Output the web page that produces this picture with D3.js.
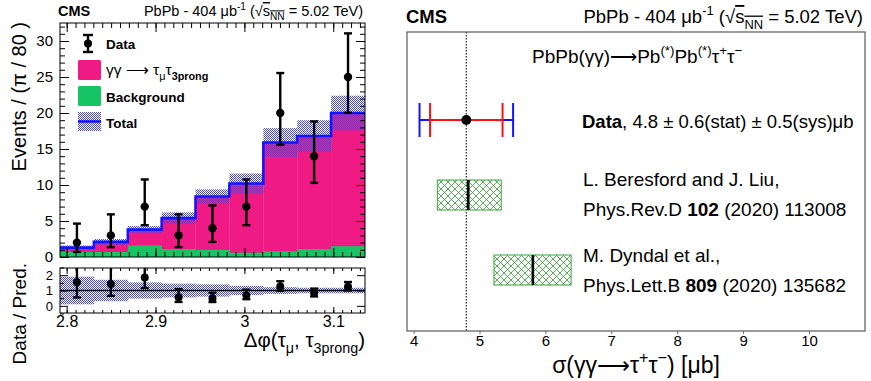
<!DOCTYPE html>
<html>
<head>
<meta charset="utf-8">
<script src="https://cdn.jsdelivr.net/npm/d3@7"></script>
<style>
  body { margin: 0; background: #fff; }
  text { font-family: "Liberation Sans", Arial, Helvetica, sans-serif; fill: #000; }
</style>
</head>
<body>
<svg id="chart" width="871" height="381"></svg>
<script>
// ---- left panel: Δφ distribution (bins of π/80) ----
const binEdges = [2.7925, 2.8306, 2.8688, 2.9069, 2.9450, 2.9831, 3.0213, 3.0594, 3.0975, 3.1357];
const dataCounts = [2, 3, 7, 3, 4, 7, 20, 14, 25];
const dataErrLow = [1.29, 1.63, 2.58, 1.63, 1.91, 2.58, 4.42, 3.70, 4.97];
const dataErrHigh = [2.64, 2.92, 3.77, 2.92, 3.16, 3.77, 5.55, 4.83, 6.06];
const bkgValues = [0.7, 0.7, 1.6, 1.1, 1.0, 0.6, 0.8, 1.1, 1.5];
const totalValues = [1.3, 2.1, 3.8, 5.4, 8.4, 10.2, 15.9, 16.8, 20.0];
const totalUnc = [0.3, 0.4, 0.5, 0.8, 1.0, 1.4, 2.0, 2.2, 2.4];
const ratioUnc = [0.9, 0.7, 0.53, 0.45, 0.4, 0.3, 0.22, 0.18, 0.18];
const xMajorTicks = [2.8, 2.9, 3.0, 3.1];
const yMajorTicks = [0, 5, 10, 15, 20, 25, 30];
const ratioTicks = [0, 1, 2];

// ---- right panel: cross section summary ----
const rowNames = ['Data', 'Beresford', 'Dyndal'];
const measValue = 4.8;
const measStat = 0.55;
const measTotal = 0.71;
const theoryRows = ['Beresford', 'Dyndal'];
const theoryCentral = [4.83, 5.81];
const theoryLow = [4.36, 5.22];
const theoryHigh = [5.33, 6.39];
const xsecTicks = [4, 5, 6, 7, 8, 9, 10];

const PINK = '#ef1a84';
const GREEN = '#17c463';
const BLUE = '#1414ff';

const svg = d3.select('#chart');
const defs = svg.append('defs');

// blue dotted hatch for the uncertainty band
const hb = defs.append('pattern').attr('id', 'hatchBlue')
    .attr('patternUnits', 'userSpaceOnUse').attr('width', 2).attr('height', 2);
hb.append('rect').attr('x', 0).attr('y', 0).attr('width', 1).attr('height', 1).attr('fill', '#4a4ae2');
hb.append('rect').attr('x', 1).attr('y', 1).attr('width', 1).attr('height', 1).attr('fill', '#4a4ae2');

// green cross hatch for theory boxes
const hg = defs.append('pattern').attr('id', 'hatchGreen')
    .attr('patternUnits', 'userSpaceOnUse').attr('width', 7).attr('height', 7);
hg.append('path').attr('d', 'M0,0L7,7M0,7L7,0M-1,6L1,8M6,-1L8,1')
    .attr('stroke', '#2f9a2f').attr('stroke-width', 0.8).attr('fill', 'none');

function richText(parent, x, y, size, parts, anchor) {
    const t = parent.append('text')
        .attr('x', x).attr('y', y)
        .attr('font-size', size)
        .attr('text-anchor', anchor || 'start');
    let shift = 0;
    parts.forEach((p) => {
        const target = p.sup ? -0.42 * size : p.sub ? 0.3 * size : 0;
        const sp = t.append('tspan').attr('dy', target - shift).text(p.t);
        shift = target;
        if (p.sup || p.sub) sp.attr('font-size', size * 0.7);
        if (p.bold) sp.attr('font-weight', 'bold');
        if (p.over) sp.style('text-decoration', 'overline');
    });
    return t;
}

// ================= LEFT PANEL =================
const L = { left: 60, right: 365, top: 23, bottom: 257, rTop: 268, rBottom: 313 };

const x = d3.scaleLinear().domain([binEdges[0], binEdges[binEdges.length - 1]]).range([L.left, L.right]);
const y = d3.scaleLinear().domain([0, 32.5]).range([L.bottom, L.top]);
const yr = d3.scaleLinear().domain([-0.5, 2.5]).range([L.rBottom + 0.5, L.rTop - 0.5]);

const bins = dataCounts.map((d, i) => ({
    x0: binEdges[i],
    x1: binEdges[i + 1],
    xc: (binEdges[i] + binEdges[i + 1]) / 2,
    n: d,
    lo: dataErrLow[i],
    hi: dataErrHigh[i],
    bkg: bkgValues[i],
    tot: totalValues[i],
    unc: totalUnc[i],
    runc: ratioUnc[i],
}));

defs.append('clipPath').attr('id', 'clipMain').append('rect')
    .attr('x', L.left).attr('y', L.top).attr('width', L.right - L.left).attr('height', L.bottom - L.top);
defs.append('clipPath').attr('id', 'clipRatio').append('rect')
    .attr('x', L.left).attr('y', L.rTop).attr('width', L.right - L.left).attr('height', L.rBottom - L.rTop);

const main = svg.append('g').attr('clip-path', 'url(#clipMain)');

main.selectAll('.sig').data(bins).enter().append('rect')
    .attr('x', (d) => x(d.x0)).attr('width', (d) => x(d.x1) - x(d.x0) + 0.3)
    .attr('y', (d) => y(d.tot)).attr('height', (d) => y(0) - y(d.tot))
    .attr('fill', PINK);

main.selectAll('.bkg').data(bins).enter().append('rect')
    .attr('x', (d) => x(d.x0)).attr('width', (d) => x(d.x1) - x(d.x0) + 0.3)
    .attr('y', (d) => y(d.bkg)).attr('height', (d) => y(0) - y(d.bkg))
    .attr('fill', GREEN);

main.selectAll('.band').data(bins).enter().append('rect')
    .attr('x', (d) => x(d.x0)).attr('width', (d) => x(d.x1) - x(d.x0))
    .attr('y', (d) => y(d.tot + d.unc)).attr('height', (d) => y(d.tot - d.unc) - y(d.tot + d.unc))
    .attr('fill', 'url(#hatchBlue)');

const stepPts = bins.map((d) => [d.x0, d.tot]).concat([[bins[bins.length - 1].x1, bins[bins.length - 1].tot]]);
main.append('path')
    .attr('d', d3.line().x((d) => x(d[0])).y((d) => y(d[1])).curve(d3.curveStepAfter)(stepPts))
    .attr('fill', 'none').attr('stroke', BLUE).attr('stroke-width', 2.6);

// axes of main panel (ticks inside, ROOT style)
function minorRange(a, b, step) {
    const out = [];
    for (let v = Math.ceil(a / step - 1e-9) * step; v <= b + 1e-9; v += step) out.push(+v.toFixed(4));
    return out;
}
const xMinor = minorRange(binEdges[0], binEdges[binEdges.length - 1], 0.01);
const yMinor = minorRange(0, 32.5, 1);
const fmt = d3.format('~g');

function tickAxis(g, axis) {
    g.call(axis);
    g.select('.domain').remove();
    g.selectAll('.tick line').attr('stroke', '#000');
    return g;
}

tickAxis(svg.append('g').attr('transform', `translate(0,${L.bottom})`),
    d3.axisBottom(x).tickValues(xMinor).tickSize(-5).tickFormat(''));
tickAxis(svg.append('g').attr('transform', `translate(0,${L.bottom})`),
    d3.axisBottom(x).tickValues(xMajorTicks).tickSize(-9).tickFormat(''));
tickAxis(svg.append('g').attr('transform', `translate(0,${L.top})`),
    d3.axisTop(x).tickValues(xMinor).tickSize(-5).tickFormat(''));
tickAxis(svg.append('g').attr('transform', `translate(0,${L.top})`),
    d3.axisTop(x).tickValues(xMajorTicks).tickSize(-9).tickFormat(''));
tickAxis(svg.append('g').attr('transform', `translate(${L.left},0)`),
    d3.axisLeft(y).tickValues(yMinor).tickSize(-5).tickFormat(''));
const yAx = tickAxis(svg.append('g').attr('transform', `translate(${L.left},0)`),
    d3.axisLeft(y).tickValues(yMajorTicks).tickSize(-9).tickPadding(7).tickFormat(fmt));
yAx.selectAll('text').attr('font-size', 15).attr('font-family', null);
tickAxis(svg.append('g').attr('transform', `translate(${L.right},0)`),
    d3.axisRight(y).tickValues(yMinor).tickSize(-5).tickFormat(''));
tickAxis(svg.append('g').attr('transform', `translate(${L.right},0)`),
    d3.axisRight(y).tickValues(yMajorTicks).tickSize(-9).tickFormat(''));

svg.append('rect').attr('x', L.left).attr('y', L.top)
    .attr('width', L.right - L.left).attr('height', L.bottom - L.top)
    .attr('fill', 'none').attr('stroke', '#000').attr('stroke-width', 1);

// data points
function drawErrorBars(g, data, ys, cx, lo, hi, val, r, cap) {
    const pts = g.selectAll(null).data(data).enter().append('g');
    pts.append('line')
        .attr('x1', (d) => x(cx(d))).attr('x2', (d) => x(cx(d)))
        .attr('y1', (d) => ys(lo(d))).attr('y2', (d) => ys(hi(d)))
        .attr('stroke', '#000').attr('stroke-width', 2.4);
    [lo, hi].forEach((f) => {
        pts.append('line')
            .attr('x1', (d) => x(cx(d)) - cap).attr('x2', (d) => x(cx(d)) + cap)
            .attr('y1', (d) => ys(f(d))).attr('y2', (d) => ys(f(d)))
            .attr('stroke', '#000').attr('stroke-width', 2.4);
    });
    pts.append('circle')
        .attr('cx', (d) => x(cx(d))).attr('cy', (d) => ys(val(d)))
        .attr('r', r).attr('fill', '#000');
}
drawErrorBars(svg.append('g'), bins, y, (d) => d.xc,
    (d) => d.n - d.lo, (d) => d.n + d.hi, (d) => d.n, 4.2, 4);

// legend
const leg = svg.append('g');
leg.append('line').attr('x1', 88).attr('x2', 88).attr('y1', 35).attr('y2', 52)
    .attr('stroke', '#000').attr('stroke-width', 2.4);
[35, 52].forEach((yy) => leg.append('line').attr('x1', 83).attr('x2', 93).attr('y1', yy).attr('y2', yy)
    .attr('stroke', '#000').attr('stroke-width', 2.4));
leg.append('circle').attr('cx', 88).attr('cy', 43.5).attr('r', 4).attr('fill', '#000');
leg.append('text').attr('x', 106).attr('y', 49).attr('font-size', 13.5).attr('font-weight', 'bold').text('Data');

leg.append('rect').attr('x', 78).attr('y', 60).attr('width', 23).attr('height', 20).attr('rx', 1.5).attr('fill', PINK);
richText(leg, 106, 75, 15.5, [
    { t: 'γγ ⟶ τ' }, { t: 'μ', sub: true }, { t: 'τ' }, { t: '3prong', sub: true, bold: true },
]);
leg.append('rect').attr('x', 78).attr('y', 86).attr('width', 23).attr('height', 20).attr('rx', 1.5).attr('fill', GREEN);
leg.append('text').attr('x', 106).attr('y', 102).attr('font-size', 13.5).attr('font-weight', 'bold').text('Background');
leg.append('rect').attr('x', 78).attr('y', 112).attr('width', 23).attr('height', 19).attr('fill', 'url(#hatchBlue)');
leg.append('line').attr('x1', 78).attr('x2', 101).attr('y1', 121.5).attr('y2', 121.5)
    .attr('stroke', BLUE).attr('stroke-width', 2.6);
leg.append('text').attr('x', 106).attr('y', 128).attr('font-size', 13.5).attr('font-weight', 'bold').text('Total');

// header
svg.append('text').attr('x', 58).attr('y', 16).attr('font-size', 14.5).attr('font-weight', 'bold').text('CMS');
richText(svg, 363, 16, 14.5, [
    { t: 'PbPb - 404 μb' }, { t: '-1', sup: true }, { t: ' (√' }, { t: 's', over: true },
    { t: 'NN', sub: true, over: true }, { t: ' = 5.02 TeV)' },
], 'end');

// y titles
const yTitle = svg.append('g').attr('transform', 'translate(26,22) rotate(-90)');
richText(yTitle, 0, 0, 20, [{ t: 'Events / (π / 80 )' }], 'end');
const rTitle = svg.append('g').attr('transform', 'translate(26,263) rotate(-90)');
richText(rTitle, 0, 0, 19, [{ t: 'Data / Pred.' }], 'end');

// ratio panel
const ratio = svg.append('g').attr('clip-path', 'url(#clipRatio)');
ratio.selectAll('.rband').data(bins).enter().append('rect')
    .attr('x', (d) => x(d.x0)).attr('width', (d) => x(d.x1) - x(d.x0) + 0.3)
    .attr('y', (d) => yr(1 + d.runc)).attr('height', (d) => yr(1 - d.runc) - yr(1 + d.runc))
    .attr('fill', 'url(#hatchBlue)');
ratio.append('line').attr('x1', L.left).attr('x2', L.right).attr('y1', yr(1)).attr('y2', yr(1))
    .attr('stroke', '#000').attr('stroke-width', 1.3);
drawErrorBars(ratio, bins, yr, (d) => d.xc,
    (d) => (d.n - d.lo) / d.tot, (d) => (d.n + d.hi) / d.tot, (d) => d.n / d.tot, 4, 4);

tickAxis(svg.append('g').attr('transform', `translate(0,${L.rBottom})`),
    d3.axisBottom(x).tickValues(xMinor).tickSize(-3).tickFormat(''));
const rxAx = tickAxis(svg.append('g').attr('transform', `translate(0,${L.rBottom})`),
    d3.axisBottom(x).tickValues(xMajorTicks).tickSize(-6).tickPadding(3).tickFormat(fmt));
rxAx.selectAll('text').attr('font-size', 16).attr('font-family', null);
tickAxis(svg.append('g').attr('transform', `translate(0,${L.rTop})`),
    d3.axisTop(x).tickValues(xMinor).tickSize(-3).tickFormat(''));
tickAxis(svg.append('g').attr('transform', `translate(0,${L.rTop})`),
    d3.axisTop(x).tickValues(xMajorTicks).tickSize(-6).tickFormat(''));
tickAxis(svg.append('g').attr('transform', `translate(${L.left},0)`),
    d3.axisLeft(yr).tickValues([-0.5, 0.5, 1.5, 2.5]).tickSize(-4).tickFormat(''));
const ryAx = tickAxis(svg.append('g').attr('transform', `translate(${L.left},0)`),
    d3.axisLeft(yr).tickValues(ratioTicks).tickSize(-8).tickPadding(7).tickFormat(fmt));
ryAx.selectAll('text').attr('font-size', 13).attr('font-family', null);
tickAxis(svg.append('g').attr('transform', `translate(${L.right},0)`),
    d3.axisRight(yr).tickValues(ratioTicks).tickSize(-8).tickFormat(''));

svg.append('rect').attr('x', L.left).attr('y', L.rTop)
    .attr('width', L.right - L.left).attr('height', L.rBottom - L.rTop)
    .attr('fill', 'none').attr('stroke', '#000').attr('stroke-width', 1);

richText(svg, 365, 347, 20.5, [
    { t: 'Δφ(τ' }, { t: 'μ', sub: true }, { t: ', τ' }, { t: '3prong', sub: true }, { t: ')' },
], 'end');

// ================= RIGHT PANEL =================
const R = { left: 407, right: 865, top: 32, bottom: 331 };
const xs = d3.scaleLinear().domain([3.9, 10.85]).range([R.left, R.right]);
const row = d3.scalePoint().domain(rowNames).range([120, 270]);

svg.append('line').attr('x1', xs(measValue)).attr('x2', xs(measValue))
    .attr('y1', R.top).attr('y2', R.bottom)
    .attr('stroke', '#333').attr('stroke-width', 1.3).attr('stroke-dasharray', '1.5,1.5');

// theory boxes
const th = svg.append('g').selectAll('g').data(theoryRows).enter().append('g');
th.append('rect')
    .attr('x', (d, i) => xs(theoryLow[i])).attr('width', (d, i) => xs(theoryHigh[i]) - xs(theoryLow[i]))
    .attr('y', (d) => row(d) - 15).attr('height', 30)
    .attr('fill', 'url(#hatchGreen)').attr('stroke', '#37a337').attr('stroke-width', 1);
th.append('line')
    .attr('x1', (d, i) => xs(theoryCentral[i])).attr('x2', (d, i) => xs(theoryCentral[i]))
    .attr('y1', (d) => row(d) - 15).attr('y2', (d) => row(d) + 15)
    .attr('stroke', '#000').attr('stroke-width', 2.6);

// measurement
const yd = row('Data');
const meas = svg.append('g');
meas.append('line').attr('x1', xs(measValue - measTotal)).attr('x2', xs(measValue + measTotal))
    .attr('y1', yd).attr('y2', yd).attr('stroke', BLUE).attr('stroke-width', 2);
meas.append('line').attr('x1', xs(measValue - measStat)).attr('x2', xs(measValue + measStat))
    .attr('y1', yd).attr('y2', yd).attr('stroke', '#ff1010').attr('stroke-width', 2);
[measValue - measTotal, measValue + measTotal].forEach((v) => meas.append('line')
    .attr('x1', xs(v)).attr('x2', xs(v)).attr('y1', yd - 17).attr('y2', yd + 17)
    .attr('stroke', BLUE).attr('stroke-width', 2));
[measValue - measStat, measValue + measStat].forEach((v) => meas.append('line')
    .attr('x1', xs(v)).attr('x2', xs(v)).attr('y1', yd - 17).attr('y2', yd + 17)
    .attr('stroke', '#ff1010').attr('stroke-width', 2));
meas.append('circle').attr('cx', xs(measValue)).attr('cy', yd).attr('r', 5).attr('fill', '#000');

// frame and axis
svg.append('rect').attr('x', R.left).attr('y', R.top)
    .attr('width', R.right - R.left).attr('height', R.bottom - R.top)
    .attr('fill', 'none').attr('stroke', '#666').attr('stroke-width', 1.3);
const xsAx = svg.append('g').attr('transform', `translate(0,${R.bottom})`)
    .call(d3.axisBottom(xs).tickValues(xsecTicks).tickSize(3).tickPadding(1).tickFormat(d3.format('d')));
xsAx.select('.domain').remove();
xsAx.selectAll('.tick line').attr('stroke', '#666');
xsAx.selectAll('text').attr('font-size', 15).attr('font-family', null);

// texts
svg.append('text').attr('x', 406).attr('y', 23).attr('font-size', 18.5).attr('font-weight', 'bold').text('CMS');
richText(svg, 863, 23, 18.5, [
    { t: 'PbPb - 404 μb' }, { t: '-1', sup: true }, { t: ' (√' }, { t: 's', over: true },
    { t: 'NN', sub: true, over: true }, { t: ' = 5.02 TeV)' },
], 'end');
richText(svg, 532, 63, 19, [
    { t: 'PbPb(γγ)⟶Pb' }, { t: '(*)', sup: true }, { t: 'Pb' }, { t: '(*)', sup: true },
    { t: 'τ' }, { t: '+', sup: true }, { t: 'τ' }, { t: '−', sup: true },
]);
richText(svg, 582, yd + 8, 18.5, [
    { t: 'Data', bold: true }, { t: ', 4.8 ± 0.6(stat) ± 0.5(sys)μb' },
]);
richText(svg, 583, row('Beresford') - 9, 19, [{ t: 'L. Beresford and J. Liu,' }]);
richText(svg, 583, row('Beresford') + 21, 19, [
    { t: 'Phys.Rev.D ' }, { t: '102', bold: true }, { t: ' (2020) 113008' },
]);
richText(svg, 583, row('Dyndal') - 8, 19, [{ t: 'M. Dyndal et al.,' }]);
richText(svg, 583, row('Dyndal') + 22, 19, [
    { t: 'Phys.Lett.B ' }, { t: '809', bold: true }, { t: ' (2020) 135682' },
]);
richText(svg, (R.left + R.right) / 2, 373, 23, [
    { t: 'σ(γγ⟶τ' }, { t: '+', sup: true }, { t: 'τ' }, { t: '−', sup: true }, { t: ') [μb]' },
], 'middle');
</script>
</body>
</html>
